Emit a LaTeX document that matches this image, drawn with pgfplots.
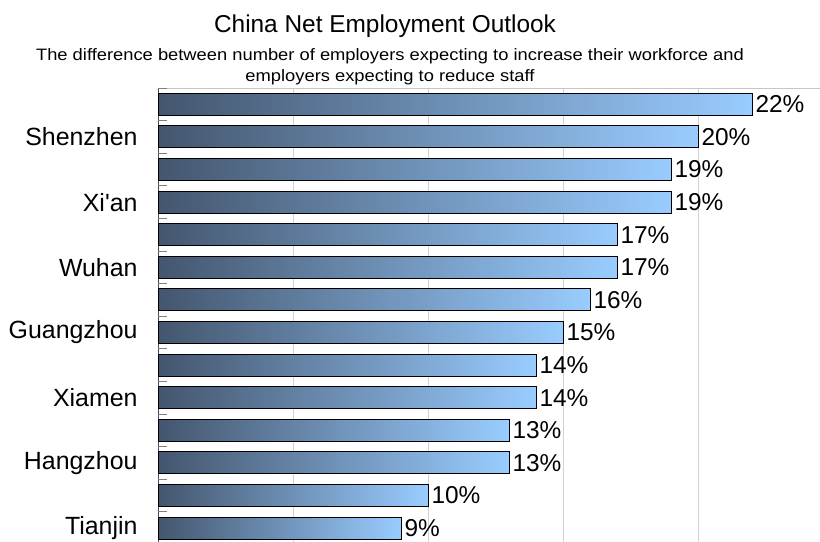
\documentclass[border=0pt]{standalone}
\usepackage{pgfplots}
\pgfplotsset{compat=1.18}
\usepackage{fontspec}
\setmainfont{Liberation Sans}
\definecolor{barL}{RGB}{68,86,110}
\definecolor{barR}{RGB}{153,204,255}
\pgfplotsset{
  mybar/.style={xbar, bar width=22bp, draw=black, line width=1bp,
    left color=barL, right color=barR, forget plot,
    point meta=x,
    nodes near coords={\pgfmathprintnumber{\pgfplotspointmeta}\%},
    nodes near coords style={font=\fontsize{24.5}{26}\selectfont, anchor=west, inner sep=1bp, xshift=2bp, text=black}}
}
\begin{document}
\begin{tikzpicture}
\useasboundingbox (0,0) rectangle (820bp,-542bp);
\node[anchor=base, font=\fontsize{24.5}{28}\selectfont] at (385bp,-32bp) {China Net Employment Outlook};
\node[anchor=base, font=\fontsize{18.4}{20}\selectfont] at (390bp,-60bp) {\scalebox{1}[0.9]{The difference between number of employers expecting to increase their workforce and}};
\node[anchor=base, font=\fontsize{18.4}{20}\selectfont] at (390bp,-81bp) {\scalebox{1}[0.9]{employers expecting to reduce staff}};
\begin{axis}[
  at={(158bp,-88bp)}, anchor=north west,
  x=27bp, y=32.6bp,
  xmin=0, xmax=24.5, ymin=0.5, ymax=14.42,
  y dir=reverse,
  axis x line*=top, axis y line*=left,
  x axis line style={draw=gray!45, -},
  y axis line style={draw=black!70, -},
  xtick={5,10,15,20}, xticklabels={},
  xmajorgrids, grid style={gray!35, line width=0.8bp},
  major tick length=0pt,
  ytick={2,4,...,14},
  yticklabels={Shenzhen,Xi\textquotesingle an,Wuhan,Guangzhou,Xiamen,Hangzhou,Tianjin},
  extra y ticks={0.5,1.5,...,13.5}, extra y tick labels={},
  extra y tick style={major tick length=9bp, tick align=inside, major tick style={draw=gray, line width=1bp}},
  yticklabel style={font=\fontsize{25}{27}\selectfont, xshift=-17bp},
  /pgf/number format/assume math mode=true,
  clip=false,
]
\addplot[mybar] coordinates {(22,1)};
\addplot[mybar] coordinates {(20,2)};
\addplot[mybar] coordinates {(19,3)};
\addplot[mybar] coordinates {(19,4)};
\addplot[mybar] coordinates {(17,5)};
\addplot[mybar] coordinates {(17,6)};
\addplot[mybar] coordinates {(16,7)};
\addplot[mybar] coordinates {(15,8)};
\addplot[mybar] coordinates {(14,9)};
\addplot[mybar] coordinates {(14,10)};
\addplot[mybar] coordinates {(13,11)};
\addplot[mybar] coordinates {(13,12)};
\addplot[mybar] coordinates {(10,13)};
\addplot[mybar] coordinates {(9,14)};
\end{axis}
\end{tikzpicture}
\end{document}
